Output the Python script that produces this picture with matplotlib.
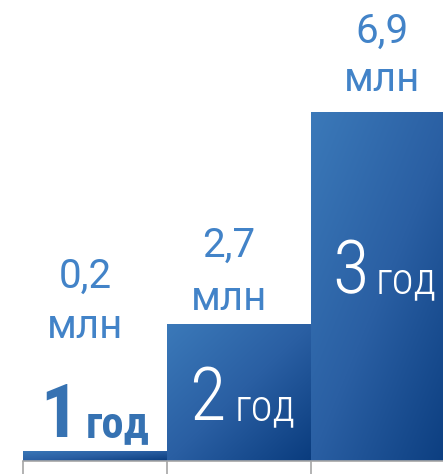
import numpy as np
import matplotlib
matplotlib.use('Agg')
import matplotlib.pyplot as plt
from matplotlib.colors import LinearSegmentedColormap

# data
years = ['1', '2', '3']
values = [0.2, 2.7, 6.9]
value_labels = ['0,2', '2,7', '6,9']
unit = 'млн'
year_word = 'год'

plt.rcParams['font.family'] = ['Roboto', 'DejaVu Sans']
cond = ['Roboto Condensed', 'DejaVu Sans']

W, H = 443, 474
fig = plt.figure(figsize=(W / 100, H / 100), dpi=100)
base_px = 461          # baseline of bars, px from top
left_px = 23
bar_px = 144           # bar width in px
scale = 349 / 6.9      # px per unit

ax = fig.add_axes([left_px / W, (H - base_px) / H, (W - left_px) / W, base_px / H])

def px(x):
    return (x - left_px) / bar_px

def py(y):
    return (base_px - y) / scale

cmap = LinearSegmentedColormap.from_list('blu', ['#3b79b9', '#2a5fa3', '#0a3c7e'])
n = 200
u, v = np.meshgrid(np.linspace(0, 1, n), np.linspace(0, 1, n))
grad = (u + v) / 2

bars = ax.bar(np.arange(len(values)), values, width=1, align='edge',
              color='none', edgecolor='none', zorder=2)
for i, b in enumerate(bars):
    im = ax.imshow(grad, cmap=cmap, extent=(i, i + 1, 0, values[i]),
                   aspect='auto', zorder=2, interpolation='bilinear')
    im.set_clip_path(b)

ax.set_xlim(0, (W - left_px) / bar_px)
ax.set_ylim(0, base_px / scale)

for s in ['top', 'right', 'left']:
    ax.spines[s].set_visible(False)
ax.spines['bottom'].set_color('#a6a6a6')
ax.spines['bottom'].set_linewidth(1.2)
ax.set_yticks([])
ax.set_xticks(np.arange(len(values)))
ax.set_xticklabels([])
ax.tick_params(axis='x', length=9.5, width=1.2, color='#a6a6a6', direction='out')

val_col = '#4283c8'
val_pos = [(85, 288, 338), (229, 257, 310), (382, 43, 91)]
for lab, (x, y1, y2) in zip(value_labels, val_pos):
    ax.text(px(x), py(y1), lab, ha='center', va='baseline', fontsize=29,
            fontweight='normal', color=val_col)
    ax.text(px(x), py(y2), unit, ha='center', va='baseline', fontsize=29,
            fontweight='normal', color=val_col)

in_pos = [(40, 86, 437), (189, 235, 420), (332, 376, 293)]
for k, (yr, (x1, x2, y)) in enumerate(zip(years, in_pos)):
    if k == 0:
        col, w = '#3672b2', 700
    else:
        col, w = 'white', 300
    ax.text(px(x1), py(y), yr, ha='left', va='baseline', fontsize=54,
            fontweight=w, color=col, zorder=3, family=cond)
    ax.text(px(x2), py(y), year_word, ha='left', va='baseline', fontsize=32,
            fontweight=w, color=col, zorder=3, family=cond)

fig.savefig('out.png', dpi=100)
